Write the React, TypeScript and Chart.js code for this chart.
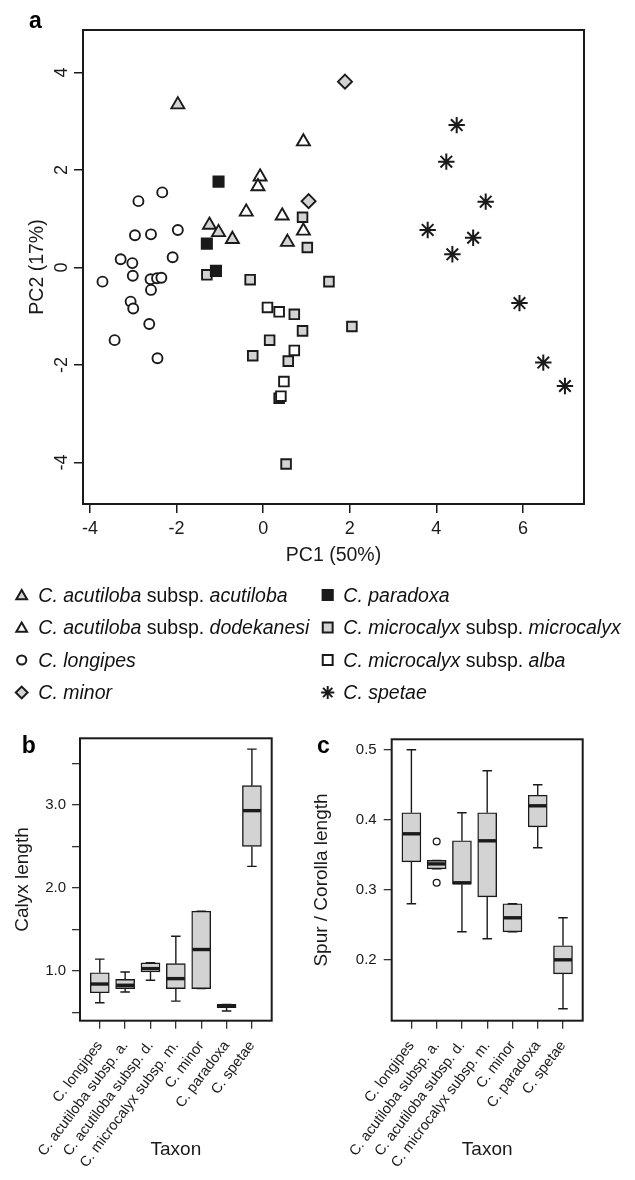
import React, { useEffect, useRef } from "react";
import { Chart, registerables } from "chart.js";

Chart.register(...registerables);

const FONT = '"Liberation Sans", Arial, Helvetica, sans-serif';
const INK = "#1a1a1a";
const GRAY = "#d3d3d3";
Chart.defaults.font.family = FONT;

// ---------- Panel a: PCA scores ----------
const pc1Ticks = [-4, -2, 0, 2, 4, 6];
const pc2Ticks = [-4, -2, 0, 2, 4];

const acutilobaPC1 = [-1.97, -1.24, -1.03, -0.71, 0.56];
const acutilobaPC2 = [3.34, 0.87, 0.72, 0.58, 0.52];
const dodekanesiPC1 = [0.93, -0.07, -0.12, -0.39, 0.44, 0.93];
const dodekanesiPC2 = [2.58, 1.86, 1.66, 1.14, 1.06, 0.75];
const longipesPC1 = [-2.33, -2.88, -1.97, -2.96, -2.59, -2.09, -3.29, -3.02, -3.01, -2.6, -2.45, -2.35, -3.71, -2.59, -3.06, -3.0, -2.63, -3.43, -2.44];
const longipesPC2 = [1.54, 1.36, 0.77, 0.66, 0.68, 0.21, 0.17, 0.09, -0.17, -0.24, -0.22, -0.21, -0.29, -0.46, -0.7, -0.84, -1.16, -1.49, -1.86];
const minorPC1 = [1.89, 1.05];
const minorPC2 = [3.81, 1.36];
const paradoxaPC1 = [-1.03, -1.3, -1.09];
const paradoxaPC2 = [1.76, 0.49, -0.07];
const microcalyxPC1 = [-1.3, -0.3, 0.91, 1.02, 1.52, 0.72, 0.91, 2.05, 0.15, -0.24, 0.58, 0.53];
const microcalyxPC2 = [-0.15, -0.25, 1.03, 0.41, -0.29, -0.96, -1.3, -1.21, -1.49, -1.81, -1.92, -4.03];
const albaPC1 = [0.1, 0.37, 0.72, 0.48, 0.37, 0.41];
const albaPC2 = [-0.82, -0.91, -1.7, -2.34, -2.68, -2.64];
const spetaePC1 = [4.47, 4.23, 5.14, 3.8, 4.85, 4.37, 5.92, 6.47, 6.97];
const spetaePC2 = [2.92, 2.17, 1.35, 0.77, 0.61, 0.27, -0.73, -1.95, -2.43];

type Seg = [string, boolean];
const legendLabels: Seg[][] = [
  [["C. acutiloba", true], [" subsp. ", false], ["acutiloba", true]],
  [["C. acutiloba", true], [" subsp. ", false], ["dodekanesi", true]],
  [["C. longipes", true]],
  [["C. minor", true]],
  [["C. paradoxa", true]],
  [["C. microcalyx", true], [" subsp. ", false], ["microcalyx", true]],
  [["C. microcalyx", true], [" subsp. ", false], ["alba", true]],
  [["C. spetae", true]],
];

// ---------- Panels b & c: boxplots ----------
const boxTaxa = [
  "C. longipes",
  "C. acutiloba subsp. a.",
  "C. acutiloba subsp. d.",
  "C. microcalyx subsp. m.",
  "C. minor",
  "C. paradoxa",
  "C. spetae",
];
const boxPositions = [1, 2, 3, 4, 5, 6, 7];

const calyxLow = [0.62, 0.75, 0.89, 0.64, 0.79, 0.52, 2.26];
const calyxQ1 = [0.74, 0.79, 0.99, 0.79, 0.79, 0.56, 2.5];
const calyxMed = [0.845, 0.83, 1.03, 0.91, 1.26, 0.58, 2.93];
const calyxQ3 = [0.98, 0.9, 1.1, 1.09, 1.72, 0.6, 3.23];
const calyxHigh = [1.145, 0.99, 1.1, 1.42, 1.72, 0.6, 3.67];
const calyxTicks = [0.5, 1, 1.5, 2, 2.5, 3, 3.5];
const calyxTickLabels = ["", "1.0", "", "2.0", "", "3.0", ""];

const spurLow = [0.28, 0.33, 0.24, 0.23, 0.24, 0.36, 0.13];
const spurQ1 = [0.34, 0.33, 0.308, 0.29, 0.24, 0.39, 0.18];
const spurMed = [0.38, 0.337, 0.31, 0.37, 0.26, 0.42, 0.2];
const spurQ3 = [0.41, 0.342, 0.37, 0.41, 0.28, 0.435, 0.22];
const spurHigh = [0.5, 0.342, 0.41, 0.47, 0.28, 0.45, 0.26];
const spurOutlierPos = [2, 2];
const spurOutlierVal = [0.369, 0.31];
const spurTicks = [0.2, 0.3, 0.4, 0.5];
const spurTickLabels = ["0.2", "0.3", "0.4", "0.5"];

// ---------- styles ----------
const taxaStyles = [
  { style: "triangle", fill: GRAY, r: 7.5, lr: 6.2 },
  { style: "triangle", fill: "#ffffff", r: 7.5, lr: 6.2 },
  { style: "circle", fill: "#ffffff", r: 5, lr: 4.6 },
  { style: "rectRot", fill: GRAY, r: 7, lr: 5.9 },
  { style: "rect", fill: INK, r: 7.2, lr: 7.2 },
  { style: "rect", fill: GRAY, r: 6.8, lr: 7.0 },
  { style: "rect", fill: "#ffffff", r: 6.8, lr: 7.0 },
  { style: "star", fill: INK, r: 8.2, lr: 6.6 },
];
const taxaXs = [acutilobaPC1, dodekanesiPC1, longipesPC1, minorPC1, paradoxaPC1, microcalyxPC1, albaPC1, spetaePC1];
const taxaYs = [acutilobaPC2, dodekanesiPC2, longipesPC2, minorPC2, paradoxaPC2, microcalyxPC2, albaPC2, spetaePC2];

function drawMarker(ctx: CanvasRenderingContext2D, style: string, x: number, y: number, r: number, fill: string) {
  ctx.save();
  ctx.lineWidth = 2;
  ctx.strokeStyle = INK;
  ctx.fillStyle = fill;
  ctx.beginPath();
  if (style === "circle") {
    ctx.arc(x, y, r, 0, Math.PI * 2);
  } else if (style === "triangle") {
    const yc = y + r * 0.2;
    ctx.moveTo(x, yc - r);
    ctx.lineTo(x + r * Math.sin((2 * Math.PI) / 3), yc - r * Math.cos((2 * Math.PI) / 3));
    ctx.lineTo(x + r * Math.sin((4 * Math.PI) / 3), yc - r * Math.cos((4 * Math.PI) / 3));
    ctx.closePath();
  } else if (style === "rect") {
    const s = r * Math.SQRT1_2;
    ctx.rect(x - s, y - s, 2 * s, 2 * s);
  } else if (style === "rectRot") {
    ctx.moveTo(x - r, y);
    ctx.lineTo(x, y - r);
    ctx.lineTo(x + r, y);
    ctx.lineTo(x, y + r);
    ctx.closePath();
  } else if (style === "star") {
    ctx.lineWidth = 2;
    ctx.moveTo(x - r, y);
    ctx.lineTo(x + r, y);
    ctx.moveTo(x, y - r);
    ctx.lineTo(x, y + r);
    const d = r * Math.SQRT1_2;
    ctx.moveTo(x - d, y - d);
    ctx.lineTo(x + d, y + d);
    ctx.moveTo(x - d, y + d);
    ctx.lineTo(x + d, y - d);
    ctx.stroke();
    ctx.restore();
    return;
  }
  ctx.fill();
  ctx.stroke();
  ctx.restore();
}

const framePlugin = {
  id: "frame",
  afterDraw(chart: any) {
    const { ctx, chartArea: a } = chart;
    ctx.save();
    ctx.strokeStyle = INK;
    ctx.lineWidth = 2;
    ctx.strokeRect(a.left, a.top, a.right - a.left, a.bottom - a.top);
    ctx.restore();
  },
};

function letterPlugin(letter: string, x: number, y: number) {
  return {
    id: "panelLetter",
    afterDraw(chart: any) {
      const ctx = chart.ctx;
      ctx.save();
      ctx.font = `bold 23px ${FONT}`;
      ctx.fillStyle = "#000";
      ctx.textBaseline = "alphabetic";
      ctx.fillText(letter, x, y);
      ctx.restore();
    },
  };
}

const legendRowY = [595, 627.5, 660, 692.5];
const legendMarkerX = [21.7, 327.7];
const legendTextX = [38.3, 343.3];

const legendPlugin = {
  id: "taxaLegend",
  afterDraw(chart: any) {
    const ctx: CanvasRenderingContext2D = chart.ctx;
    legendLabels.forEach((segs, i) => {
      const col = i < 4 ? 0 : 1;
      const y = legendRowY[i % 4];
      const st = taxaStyles[i];
      drawMarker(ctx, st.style, legendMarkerX[col], y, st.lr, st.fill);
      let x = legendTextX[col];
      ctx.save();
      ctx.fillStyle = "#111";
      ctx.textBaseline = "alphabetic";
      segs.forEach(([text, italic]) => {
        ctx.font = `${italic ? "italic " : ""}19.5px ${FONT}`;
        ctx.fillText(text, x, y + 6.5);
        x += ctx.measureText(text).width;
      });
      ctx.restore();
    });
  },
};

function axisGrid(len: number) {
  return { display: true, drawOnChartArea: false, drawTicks: true, tickLength: len, color: INK, lineWidth: 1.5 };
}

function makePca(canvas: HTMLCanvasElement) {
  const datasets = taxaStyles.map((st, i) => ({
    label: legendLabels[i].map((s) => s[0]).join(""),
    data: taxaXs[i].map((x, j) => ({ x, y: taxaYs[i][j] })),
    pointStyle: st.style,
    pointRadius: st.r,
    pointBackgroundColor: st.fill,
    backgroundColor: st.fill,
    pointBorderColor: INK,
    borderColor: INK,
    pointBorderWidth: st.style === "star" ? 2 : 1.9,
    showLine: false,
  }));
  return new Chart(canvas, {
    type: "scatter",
    data: { datasets } as any,
    options: {
      animation: false,
      responsive: false,
      events: [],
      layout: { padding: { left: 0, top: 30, right: 51, bottom: 146 } },
      plugins: { legend: { display: false }, tooltip: { enabled: false } },
      scales: {
        x: {
          type: "linear",
          min: -4.16,
          max: 7.41,
          afterBuildTicks: (s: any) => {
            s.ticks = pc1Ticks.map((v) => ({ value: v }));
          },
          afterFit: (s: any) => {
            s.height = 70;
          },
          grid: axisGrid(9),
          border: { display: false },
          ticks: { font: { size: 18, lineHeight: 1.2 }, color: INK, padding: 5, autoSkip: false, maxRotation: 0 },
          title: {
            display: true,
            text: "PC1 (50%)",
            color: INK,
            font: { size: 19.5, lineHeight: 1.2 },
            padding: { top: 0, bottom: 6.3 },
          },
        },
        y: {
          type: "linear",
          min: -4.85,
          max: 4.87,
          afterBuildTicks: (s: any) => {
            s.ticks = pc2Ticks.map((v) => ({ value: v }));
          },
          afterFit: (s: any) => {
            s.width = 83;
          },
          grid: axisGrid(9),
          border: { display: false },
          ticks: {
            font: { size: 18, lineHeight: 1.2 },
            color: INK,
            padding: 4.3,
            autoSkip: false,
            minRotation: 90,
            maxRotation: 90,
            crossAlign: "center",
          },
          title: {
            display: true,
            text: "PC2 (17%)",
            color: INK,
            font: { size: 19.5, lineHeight: 1.2 },
            padding: { top: 26.3, bottom: 0 },
          },
        },
      },
    } as any,
    plugins: [framePlugin, legendPlugin, letterPlugin("a", 29, 28)],
  });
}

type BoxCfg = {
  low: number[];
  q1: number[];
  med: number[];
  q3: number[];
  high: number[];
  outPos: number[];
  outVal: number[];
  yMin: number;
  yMax: number;
  yTicks: number[];
  yTickLabels: string[];
  yTitle: string;
  yTitlePad: number;
  yWidth: number;
  yTickPad: number;
  padTop: number;
  padRight: number;
  letter: string;
  letterX: number;
};

const BOX_W = 19;

function makeBox(canvas: HTMLCanvasElement, c: BoxCfg) {
  const whiskerPlugin = {
    id: "boxWhisker",
    afterDatasetsDraw(chart: any) {
      const { ctx } = chart;
      const xs = chart.scales.x;
      const ys = chart.scales.y;
      ctx.save();
      ctx.strokeStyle = INK;
      for (let i = 0; i < c.med.length; i++) {
        const px = xs.getPixelForValue(boxPositions[i]);
        const half = BOX_W / 2;
        const cap = BOX_W / 4;
        const yHi = ys.getPixelForValue(c.high[i]);
        const yLo = ys.getPixelForValue(c.low[i]);
        ctx.lineWidth = 1.4;
        ctx.beginPath();
        ctx.moveTo(px, ys.getPixelForValue(c.q3[i]));
        ctx.lineTo(px, yHi);
        ctx.moveTo(px, ys.getPixelForValue(c.q1[i]));
        ctx.lineTo(px, yLo);
        ctx.moveTo(px - cap, yHi);
        ctx.lineTo(px + cap, yHi);
        ctx.moveTo(px - cap, yLo);
        ctx.lineTo(px + cap, yLo);
        ctx.stroke();
        ctx.lineWidth = 3.4;
        ctx.beginPath();
        const ym = ys.getPixelForValue(c.med[i]);
        ctx.moveTo(px - half + 0.5, ym);
        ctx.lineTo(px + half - 0.5, ym);
        ctx.stroke();
      }
      ctx.restore();
    },
  };
  return new Chart(canvas, {
    type: "bar",
    data: {
      datasets: [
        {
          type: "bar",
          data: boxPositions.map((p, i) => ({ x: p, y: [c.q1[i], c.q3[i]] })),
          backgroundColor: GRAY,
          borderColor: INK,
          borderWidth: 1.4,
          borderSkipped: false,
          barThickness: BOX_W,
        },
        {
          type: "scatter",
          data: c.outPos.map((p, i) => ({ x: p, y: c.outVal[i] })),
          pointStyle: "circle",
          pointRadius: 3.4,
          pointBackgroundColor: "#ffffff",
          pointBorderColor: INK,
          pointBorderWidth: 1.3,
          showLine: false,
        },
      ],
    } as any,
    options: {
      animation: false,
      responsive: false,
      events: [],
      layout: { padding: { left: 0, top: c.padTop, right: c.padRight, bottom: 0 } },
      plugins: { legend: { display: false }, tooltip: { enabled: false } },
      scales: {
        x: {
          type: "linear",
          min: 0.22,
          max: 7.78,
          offset: false,
          afterBuildTicks: (s: any) => {
            s.ticks = boxPositions.map((v) => ({ value: v }));
          },
          afterFit: (s: any) => {
            s.height = 159.3;
          },
          grid: { ...axisGrid(8), offset: false, color: "#333", lineWidth: 1.3 },
          border: { display: false },
          ticks: {
            font: { size: 14.5, lineHeight: 1.2 },
            color: INK,
            padding: 9,
            autoSkip: false,
            minRotation: 53,
            maxRotation: 53,
            callback: (_v: any, i: number) => boxTaxa[i],
          },
          title: {
            display: true,
            text: "Taxon",
            color: INK,
            font: { size: 19, lineHeight: 1.2 },
            padding: { top: 0, bottom: 18.6 },
          },
        },
        y: {
          type: "linear",
          min: c.yMin,
          max: c.yMax,
          afterBuildTicks: (s: any) => {
            s.ticks = c.yTicks.map((v) => ({ value: v }));
          },
          afterFit: (s: any) => {
            s.width = c.yWidth;
          },
          grid: { ...axisGrid(8), color: "#333", lineWidth: 1.3 },
          border: { display: false },
          ticks: {
            font: { size: 15, lineHeight: 1.2 },
            color: INK,
            padding: c.yTickPad,
            autoSkip: false,
            callback: (_v: any, i: number) => c.yTickLabels[i],
          },
          title: {
            display: true,
            text: c.yTitle,
            color: INK,
            font: { size: 19, lineHeight: 1.2 },
            padding: { top: c.yTitlePad, bottom: 0 },
          },
        },
      },
    } as any,
    plugins: [whiskerPlugin, framePlugin, letterPlugin(c.letter, c.letterX, 33)],
  });
}

export default function App() {
  const aRef = useRef<HTMLCanvasElement>(null);
  const bRef = useRef<HTMLCanvasElement>(null);
  const cRef = useRef<HTMLCanvasElement>(null);

  useEffect(() => {
    const charts: Chart[] = [];
    charts.push(makePca(aRef.current!));
    charts.push(
      makeBox(bRef.current!, {
        low: calyxLow,
        q1: calyxQ1,
        med: calyxMed,
        q3: calyxQ3,
        high: calyxHigh,
        outPos: [],
        outVal: [],
        yMin: 0.404,
        yMax: 3.8,
        yTicks: calyxTicks,
        yTickLabels: calyxTickLabels,
        yTitle: "Calyx length",
        yTitlePad: 11.1,
        yWidth: 80,
        yTickPad: 6,
        padTop: 18.3,
        padRight: 28.3,
        letter: "b",
        letterX: 21.7,
      })
    );
    charts.push(
      makeBox(cRef.current!, {
        low: spurLow,
        q1: spurQ1,
        med: spurMed,
        q3: spurQ3,
        high: spurHigh,
        outPos: spurOutlierPos,
        outVal: spurOutlierVal,
        yMin: 0.113,
        yMax: 0.515,
        yTicks: spurTicks,
        yTickLabels: spurTickLabels,
        yTitle: "Spur / Corolla length",
        yTitlePad: 10.6,
        yWidth: 91.7,
        yTickPad: 7,
        padTop: 19.3,
        padRight: 52.3,
        letter: "c",
        letterX: 17,
      })
    );
    return () => charts.forEach((ch) => ch.destroy());
  }, []);

  return (
    <div style={{ position: "absolute", left: 0, top: 0, width: 635, height: 1180, background: "#ffffff", overflow: "hidden" }}>
      <canvas ref={aRef} width={635} height={720} style={{ position: "absolute", left: 0, top: 0 }} />
      <canvas ref={bRef} width={300} height={460} style={{ position: "absolute", left: 0, top: 720 }} />
      <canvas ref={cRef} width={335} height={460} style={{ position: "absolute", left: 300, top: 720 }} />
    </div>
  );
}
